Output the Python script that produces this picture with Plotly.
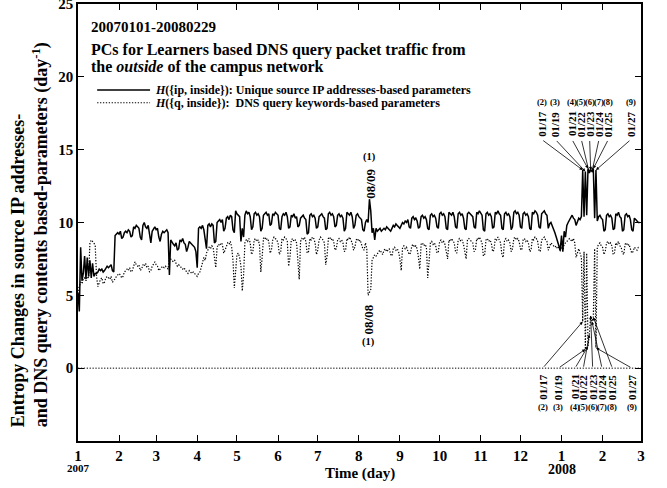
import pandas as pd
import plotly.graph_objects as go

start_date = "2007-01-01"

# H({ip, inside}) daily values, 2007-01-01 .. 2008-02-29 (one row = one week)
ip_values = [
    5.2, 3.9, 8.3, 6.0, 6.5, 7.7, 6.1,
    7.6, 6.3, 7.4, 6.2, 7.2, 6.3, 6.5,
    6.5, 6.6, 6.8, 6.7, 6.8, 6.6, 6.7,
    6.9, 7.0, 6.9, 7.0, 7.1, 6.7, 6.6,
    9.1, 9.2, 9.3, 9.2, 9.4, 8.9, 9.0,
    9.3, 9.4, 9.3, 9.5, 9.4, 9.0, 9.1,
    9.7, 9.6, 9.8, 9.7, 9.6, 9.0, 8.8,
    9.8, 10.0, 9.7, 9.6, 9.8, 9.1, 8.6,
    9.4, 9.6, 9.7, 9.5, 9.6, 9.0, 8.7,
    9.2, 9.4, 9.3, 9.4, 9.5, 9.3, 6.4,
    8.8, 8.6, 8.5, 8.4, 8.6, 8.1, 8.2,
    8.8, 8.7, 8.9, 8.6, 8.5, 8.0, 8.3,
    8.7, 8.6, 8.5, 8.4, 8.3, 8.0, 6.9,
    9.6, 9.7, 9.6, 9.8, 9.5, 8.9, 8.2,
    9.8, 9.9, 9.7, 9.9, 9.8, 8.6, 8.7,
    10.0, 10.1, 10.2, 10.0, 10.2, 9.4, 9.6,
    10.3, 10.4, 10.2, 10.5, 10.4, 9.5, 9.3,
    10.8, 10.6, 10.5, 10.4, 8.7, 9.6, 9.0,
    10.5, 10.8, 10.6, 10.7, 10.4, 9.5, 9.7,
    10.6, 10.7, 10.5, 10.6, 10.4, 9.4, 9.6,
    10.5, 10.6, 10.7, 10.5, 10.6, 9.8, 9.9,
    10.6, 10.5, 10.7, 10.6, 10.5, 9.6, 9.5,
    10.4, 10.6, 10.5, 10.7, 10.4, 9.6, 9.7,
    10.5, 10.4, 10.6, 10.3, 10.4, 9.7, 9.8,
    10.3, 10.4, 10.5, 10.3, 10.2, 9.2, 9.3,
    10.5, 10.6, 10.4, 10.5, 10.3, 9.6, 9.7,
    10.4, 10.5, 10.6, 10.4, 10.3, 9.5, 9.6,
    10.6, 10.7, 10.5, 10.6, 10.4, 9.7, 9.8,
    10.5, 10.6, 10.4, 10.5, 10.3, 9.4, 9.6,
    10.7, 10.6, 10.5, 10.7, 10.4, 9.6, 9.8,
    10.5, 10.6, 10.4, 10.3, 10.2, 9.5, 9.4,
    10.0, 10.2, 10.0, 11.6, 10.8, 9.3, 9.6,
    8.8, 9.6, 9.4, 9.5, 9.6, 9.4, 9.5,
    9.6, 9.5, 9.7, 9.6, 9.5, 9.4, 9.6,
    9.8, 9.7, 9.9, 9.8, 9.7, 9.6, 9.8,
    10.0, 9.9, 10.1, 10.0, 10.2, 9.7, 9.6,
    10.3, 10.4, 10.2, 10.3, 10.1, 9.6, 9.7,
    10.4, 10.5, 10.3, 10.4, 10.2, 9.6, 9.5,
    10.5, 10.6, 10.4, 10.5, 10.3, 9.7, 9.6,
    10.6, 10.7, 10.5, 10.6, 10.4, 9.6, 9.5,
    10.7, 10.6, 10.5, 10.7, 10.4, 9.7, 9.6,
    10.6, 10.7, 10.5, 10.6, 10.3, 9.6, 9.5,
    10.6, 10.7, 10.6, 10.5, 10.4, 9.7, 9.6,
    10.7, 10.6, 10.8, 10.6, 10.5, 9.5, 9.4,
    10.6, 10.7, 10.5, 10.6, 10.4, 9.6, 9.7,
    10.7, 10.6, 10.8, 10.6, 10.5, 9.6, 9.5,
    10.6, 10.7, 10.5, 10.6, 10.4, 9.5, 9.7,
    10.7, 10.8, 10.6, 10.7, 10.5, 9.7, 9.6,
    10.6, 10.7, 10.5, 10.6, 10.4, 9.6, 9.5,
    10.7, 10.6, 10.8, 10.7, 10.5, 9.7, 9.6,
    10.6, 10.7, 10.8, 10.6, 10.5, 9.6, 9.9,
    10.0, 9.8, 9.6, 9.3, 9.0, 8.6, 8.4,
    8.1, 9.1, 8.0, 9.4, 9.0, 9.8, 10.0,
    10.2, 10.4, 10.5, 10.3, 10.2, 9.8, 10.0,
    10.3, 10.2, 10.4, 13.6, 10.4, 13.5, 10.5,
    13.7, 13.4, 13.6, 13.5, 13.7, 10.3, 13.6,
    10.1, 10.4, 10.5, 10.3, 10.2, 9.4, 9.5,
    10.5, 10.6, 10.4, 10.5, 10.3, 9.5, 9.6,
    10.6, 10.5, 10.7, 10.4, 10.3, 9.4, 9.5,
    10.5, 10.6, 10.4, 10.5, 10.2, 9.5, 9.4,
    10.3, 10.2, 10.1, 10.0, 10.0,
]

# H({q, inside}) daily values
q_values = [
    5.3, 5.6, 5.9, 5.8, 6.1, 6.2, 6.0,
    6.3, 6.2, 8.6, 8.8, 8.7, 8.6, 8.4,
    6.3, 5.6, 5.9, 6.1, 6.2, 5.8, 5.9,
    6.2, 6.3, 6.2, 6.1, 6.3, 5.9, 6.0,
    6.2, 6.3, 6.4, 6.5, 6.4, 6.2, 6.3,
    6.6, 6.7, 6.8, 6.7, 6.9, 6.6, 6.7,
    7.0, 7.3, 7.1, 7.0, 7.1, 6.7, 6.8,
    7.1, 7.0, 7.2, 6.9, 7.0, 6.6, 6.7,
    7.0, 7.2, 7.3, 7.1, 7.0, 6.7, 6.8,
    6.9, 7.0, 6.9, 7.0, 6.9, 6.8, 7.6,
    7.5, 7.4, 7.3, 7.4, 7.2, 7.0, 7.1,
    7.0, 6.9, 6.8, 6.9, 6.7, 6.6, 6.5,
    6.7, 6.6, 6.5, 6.6, 6.5, 6.4, 6.3,
    6.5, 6.6, 6.9, 7.3, 7.6, 7.4, 7.9,
    8.1, 8.3, 8.2, 8.4, 8.3, 7.6, 6.9,
    8.3, 8.5, 8.4, 8.6, 8.5, 7.9, 8.1,
    8.4, 8.6, 8.5, 8.7, 8.3, 7.4, 5.5,
    6.6, 7.8, 7.9, 7.6, 7.0, 5.3, 6.4,
    8.6, 8.8, 8.7, 8.9, 8.6, 7.8, 8.0,
    8.8, 8.9, 8.7, 8.8, 8.5, 6.6, 7.6,
    8.9, 9.0, 8.8, 8.9, 8.7, 7.9, 8.1,
    8.8, 9.0, 8.9, 8.8, 8.6, 7.8, 8.0,
    8.9, 8.8, 9.0, 8.9, 8.7, 7.0, 7.6,
    8.8, 8.9, 8.7, 8.8, 8.6, 7.5, 6.1,
    8.7, 8.9, 8.8, 9.0, 8.7, 7.9, 8.0,
    8.9, 8.8, 9.0, 8.9, 8.6, 7.8, 8.1,
    8.8, 9.0, 8.9, 8.8, 8.6, 7.1, 7.7,
    8.9, 9.0, 8.8, 8.9, 8.7, 8.1, 8.2,
    8.8, 8.9, 8.7, 8.8, 8.6, 8.0, 8.1,
    8.9, 8.8, 9.0, 8.8, 8.6, 8.1, 8.3,
    8.8, 8.9, 8.7, 8.8, 8.5, 8.2, 8.1,
    8.6, 8.2, 5.0, 5.2, 5.4, 7.4, 7.6,
    7.8, 7.7, 7.9, 8.0, 8.1, 7.9, 7.8,
    8.1, 8.2, 8.0, 8.1, 8.2, 7.8, 7.7,
    8.2, 8.3, 8.1, 8.2, 8.0, 7.5, 6.7,
    8.3, 8.4, 8.2, 8.3, 8.1, 7.8, 7.9,
    8.4, 8.5, 8.3, 8.4, 8.2, 7.6, 6.8,
    8.5, 8.6, 8.4, 8.5, 8.3, 6.2, 7.3,
    8.6, 8.7, 8.5, 8.6, 8.4, 7.9, 8.0,
    8.7, 8.8, 8.6, 8.7, 8.5, 7.9, 7.5,
    8.8, 8.7, 8.9, 8.7, 8.6, 8.0, 7.9,
    8.8, 8.9, 8.7, 8.8, 8.5, 7.9, 7.5,
    8.8, 8.9, 8.8, 8.7, 8.6, 8.0, 8.1,
    8.9, 8.8, 9.0, 8.8, 8.6, 7.7, 7.8,
    8.8, 8.9, 8.7, 8.8, 8.6, 8.0, 8.1,
    8.9, 8.8, 9.0, 8.8, 8.6, 7.8, 7.6,
    8.8, 8.9, 8.7, 8.8, 8.6, 8.0, 8.2,
    8.9, 9.0, 8.8, 8.9, 8.7, 8.2, 8.1,
    8.8, 8.9, 8.7, 8.8, 8.6, 8.0, 8.1,
    8.9, 8.8, 9.0, 8.9, 8.7, 8.1, 8.0,
    8.8, 8.9, 9.0, 8.8, 8.7, 8.1, 8.3,
    8.6, 8.5, 8.4, 8.3, 8.4, 8.2, 8.3,
    8.0, 8.3, 8.1, 8.5, 8.6, 8.7, 8.8,
    8.9, 8.8, 8.7, 8.9, 8.6, 7.6, 8.0,
    8.2, 7.9, 7.6, 3.2, 8.0, 1.3, 7.9,
    1.5, 2.3, 3.6, 3.2, 3.5, 8.2, 1.4,
    8.3, 8.5, 8.6, 8.4, 8.3, 7.8, 8.0,
    8.6, 8.7, 8.5, 8.6, 8.4, 7.8, 7.9,
    8.6, 8.5, 8.7, 8.4, 8.3, 7.9, 7.8,
    8.5, 8.6, 8.4, 8.5, 8.2, 7.9, 8.0,
    8.3, 8.2, 8.1, 8.3, 8.3,
]

month_ticks = ["2007-01-01", "2007-02-01", "2007-03-01", "2007-04-01", "2007-05-01",
               "2007-06-01", "2007-07-01", "2007-08-01", "2007-09-01", "2007-10-01",
               "2007-11-01", "2007-12-01", "2008-01-01", "2008-02-01", "2008-03-01"]
month_labels = ["1", "2", "3", "4", "5", "6", "7", "8", "9", "10", "11", "12", "1", "2", "3"]
y_ticks = [0, 5, 10, 15, 20, 25]

peak_date, peak_label = "2007-08-09", "08/09"
dip_date, dip_label = "2007-08-08", "08/08"
jan_dates = ["2008-01-17", "2008-01-19", "2008-01-21", "2008-01-22",
             "2008-01-23", "2008-01-24", "2008-01-25", "2008-01-27"]
jan_labels = ["01/17", "01/19", "01/21", "01/22", "01/23", "01/24", "01/25", "01/27"]
jan_nums = ["(2)", "(3)", "(4)", "(5)", "(6)", "(7)", "(8)", "(9)"]

dates = pd.date_range(start_date, periods=len(ip_values), freq="D")
q_dates = pd.date_range(start_date, periods=len(q_values), freq="D")
t0 = pd.Timestamp(start_date)


def val(series, d):
    return series[(pd.Timestamp(d) - t0).days]


FONT = "Liberation Serif"
DOT = "1.3px,1.6px"
fig = go.Figure()
fig.add_trace(go.Scatter(x=dates, y=ip_values, mode="lines",
                         line=dict(color="black", width=1.5), hoverinfo="skip"))
fig.add_trace(go.Scatter(x=q_dates, y=q_values, mode="lines",
                         line=dict(color="black", width=1.2, dash=DOT), hoverinfo="skip"))

shapes = [
    dict(type="line", xref="paper", yref="y", x0=0, x1=1, y0=0, y1=0,
         line=dict(color="black", width=1, dash=DOT)),
    dict(type="line", xref="paper", yref="paper", x0=0.034, x1=0.128, y0=0.803, y1=0.803,
         line=dict(color="black", width=1.5)),
    dict(type="line", xref="paper", yref="paper", x0=0.034, x1=0.128, y0=0.774, y1=0.774,
         line=dict(color="black", width=1, dash=DOT)),
]


def bold(size):
    return dict(family=FONT, size=size, color="black", weight="bold")


ann = []
ann.append(dict(xref="paper", yref="paper", x=0.0195, y=0.947, xanchor="left", yanchor="middle",
                text="20070101-20080229", showarrow=False, font=bold(15)))
ann.append(dict(xref="paper", yref="paper", x=0.0195, y=0.895, xanchor="left", yanchor="middle",
                text="PCs for Learners based DNS query packet traffic from", showarrow=False, font=bold(16)))
ann.append(dict(xref="paper", yref="paper", x=0.0195, y=0.856, xanchor="left", yanchor="middle",
                text="the <i>outside</i> of the campus network", showarrow=False, font=bold(16)))
ann.append(dict(xref="paper", yref="paper", x=0.133, y=0.803, xanchor="left", yanchor="middle",
                text="<i>H</i>({ip, inside}): Unique source IP addresses-based parameters",
                showarrow=False, font=bold(12)))
ann.append(dict(xref="paper", yref="paper", x=0.133, y=0.774, xanchor="left", yanchor="middle",
                text="<i>H</i>({q, inside}):  DNS query keywords-based parameters",
                showarrow=False, font=bold(12)))
# axis titles
ann.append(dict(xref="paper", yref="paper", x=-0.085, y=0.471, xanchor="center", yanchor="middle",
                text="Entropy Changes in source IP addresses-<br>and DNS query contents based-parameters (day<sup>-1</sup>)",
                textangle=-90, align="left", showarrow=False, font=bold(18)))
ann.append(dict(xref="paper", yref="paper", x=0.5, y=0, xanchor="center", yanchor="top", yshift=-22,
                text="Time (day)", showarrow=False, font=bold(15)))
ann.append(dict(xref="x", yref="paper", x="2007-01-01", y=0, xanchor="center", yanchor="top", yshift=-19,
                text="2007", showarrow=False, font=bold(11)))
ann.append(dict(xref="x", yref="paper", x="2008-01-01", y=0, xanchor="center", yanchor="top", yshift=-19,
                text="2008", showarrow=False, font=bold(14)))

# (1) labels around August
pv = val(ip_values, peak_date)
ann.append(dict(x=peak_date, y=pv, text=peak_label, textangle=-90, showarrow=False,
                xanchor="center", yanchor="middle", yshift=16, xshift=1, font=bold(13)))
ann.append(dict(x=peak_date, y=pv, text="(1)", showarrow=False,
                xanchor="center", yanchor="middle", yshift=42, font=bold(10.5)))
dv = val(q_values, dip_date)
ann.append(dict(x=dip_date, y=dv, text=dip_label, textangle=-90, showarrow=False,
                xanchor="center", yanchor="middle", yshift=-24, font=bold(13)))
ann.append(dict(x=dip_date, y=dv, text="(1)", showarrow=False,
                xanchor="center", yanchor="middle", yshift=-47, font=bold(10.5)))

top_dx = [-41, -30, -16, -8, -1, 7, 15, 35]
bot_dx = [-40, -27, -13, -6, 2, 10, 19, 36]
for d, lab, num, tdx, bdx in zip(jan_dates, jan_labels, jan_nums, top_dx, bot_dx):
    tv = val(ip_values, d)
    bv = val(q_values, d)
    # top
    ann.append(dict(x=d, y=tv, ax=tdx, ay=15.7, axref="pixel", ayref="y", text="",
                    showarrow=True, arrowhead=2, arrowsize=0.8, arrowwidth=0.8, arrowcolor="black"))
    ann.append(dict(x=d, xref="x", yref="paper", y=0.7254, xshift=tdx, text=lab, textangle=-90,
                    xanchor="center", yanchor="middle", showarrow=False, font=bold(11)))
    ann.append(dict(x=d, xref="x", yref="paper", y=0.7755, xshift=tdx, text=num,
                    xanchor="center", yanchor="middle", showarrow=False, font=bold(8.5)))
    # bottom
    ann.append(dict(x=d, y=bv, ax=bdx, ay=0.0, axref="pixel", ayref="y", text="",
                    showarrow=True, arrowhead=2, arrowsize=0.8, arrowwidth=0.8, arrowcolor="black"))
    ann.append(dict(x=d, xref="x", yref="paper", y=0.1236, xshift=bdx, text=lab, textangle=-90,
                    xanchor="center", yanchor="middle", showarrow=False, font=bold(11)))
    ann.append(dict(x=d, xref="x", yref="paper", y=0.0775, xshift=bdx, text=num,
                    xanchor="center", yanchor="middle", showarrow=False, font=bold(8.5)))

fig.update_layout(
    width=667, height=488,
    margin=dict(l=78, r=26, t=4, b=47),
    plot_bgcolor="white", paper_bgcolor="white",
    showlegend=False,
    font=dict(family=FONT, color="black"),
    shapes=shapes, annotations=ann,
    xaxis=dict(type="date", range=["2007-01-01", "2008-03-01"],
               tickmode="array", tickvals=month_ticks, ticktext=month_labels,
               ticks="inside", ticklen=6, tickwidth=1.2, tickcolor="black",
               showline=True, linecolor="black", linewidth=1.5, mirror="ticks",
               showgrid=False, zeroline=False, tickfont=bold(15),
               ticklabeloverflow="allow", automargin=False),
    yaxis=dict(range=[-5, 25], tickmode="array", tickvals=y_ticks,
               ticks="inside", ticklen=6, tickwidth=1.2, tickcolor="black",
               showline=True, linecolor="black", linewidth=1.5, mirror="ticks",
               showgrid=False, zeroline=False, tickfont=bold(15),
               ticklabeloverflow="allow", automargin=False),
)

fig.write_html("out.html", config={"displayModeBar": False},
               post_script="document.body.style.margin='0';")
